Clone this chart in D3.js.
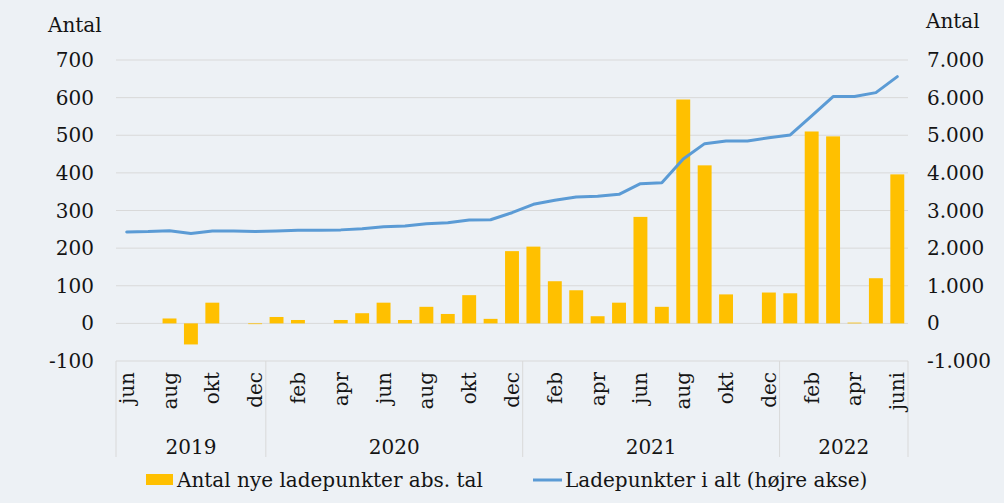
<!DOCTYPE html>
<html>
<head>
<meta charset="utf-8">
<script src="https://cdn.jsdelivr.net/npm/d3@7"></script>
<style>
  body { margin: 0; background: #edf1f5; }
  svg { display: block; }
  text { font-family: "DejaVu Serif", Georgia, serif; fill: #141414; }
</style>
</head>
<body>
<svg id="chart"></svg>
<script>
const width = 1004;
const height = 503;

// måneder jun 2019 - juni 2022
const months = [
  "jun", "jul", "aug", "sep", "okt", "nov", "dec",
  "jan", "feb", "mar", "apr", "maj", "jun", "jul", "aug", "sep", "okt", "nov", "dec",
  "jan", "feb", "mar", "apr", "maj", "jun", "jul", "aug", "sep", "okt", "nov", "dec",
  "jan", "feb", "mar", "apr", "maj", "juni"
];
const years = [
  { label: "2019", count: 7 },
  { label: "2020", count: 12 },
  { label: "2021", count: 12 },
  { label: "2022", count: 6 }
];
// nye ladepunkter pr. måned
const newPoints = [
  0, 0, 13, -56, 55, 0, -2,
  17, 9, 0, 9, 27, 55, 9, 44, 25, 75, 12, 192,
  204, 112, 88, 19, 55, 283, 44, 595, 420, 77, 0, 82,
  80, 510, 497, 2, 120, 396
];
// ladepunkter i alt (højre akse)
const totalPoints = [
  2430, 2440, 2463, 2390, 2455, 2455, 2440,
  2455, 2473, 2475, 2485, 2516, 2569, 2590, 2650, 2676, 2747, 2755, 2941,
  3165, 3271, 3359, 3377, 3431, 3713, 3739, 4370, 4777, 4848, 4850, 4936,
  5008, 5513, 6027, 6030, 6133, 6559
];
const leftTicks = [-100, 0, 100, 200, 300, 400, 500, 600, 700];
const rightTicks = [-1000, 0, 1000, 2000, 3000, 4000, 5000, 6000, 7000];

const margin = { left: 116, right: 96, top: 60, bottom: 142 };
const x0 = margin.left, x1 = width - margin.right;
const yTop = margin.top, yBottom = height - margin.bottom;
const fs = "20px";

const svg = d3.select("#chart").attr("width", width).attr("height", height);

const x = d3.scaleBand()
  .domain(d3.range(months.length))
  .range([x0, x1])
  .paddingInner(0.35)
  .paddingOuter(0.175);
const step = x.step();
const cx = i => x(i) + x.bandwidth() / 2;

const y = d3.scaleLinear().domain([-100, 700]).range([yBottom, yTop]);
const y2 = d3.scaleLinear().domain([-1000, 7000]).range([yBottom, yTop]);

// gitterlinjer
svg.append("g")
  .selectAll("line")
  .data(leftTicks.slice(1))
  .join("line")
  .attr("x1", x0).attr("x2", x1)
  .attr("y1", d => y(d)).attr("y2", d => y(d))
  .attr("stroke", "#d9d9d9")
  .attr("stroke-width", 1);

// søjler
svg.append("g")
  .selectAll("rect")
  .data(newPoints)
  .join("rect")
  .attr("x", (d, i) => x(i))
  .attr("width", x.bandwidth())
  .attr("y", d => y(Math.max(0, d)))
  .attr("height", d => Math.abs(y(d) - y(0)))
  .attr("fill", "#ffc000");

// linje
const line = d3.line()
  .x((d, i) => cx(i))
  .y(d => y2(d));
svg.append("path")
  .datum(totalPoints)
  .attr("d", line)
  .attr("fill", "none")
  .attr("stroke", "#5b9bd5")
  .attr("stroke-width", 3)
  .attr("stroke-linejoin", "round")
  .attr("stroke-linecap", "round");

// venstre akse (bindestreg som minus)
const fmtLeft = d => String(d);
svg.append("g")
  .selectAll("text")
  .data(leftTicks)
  .join("text")
  .attr("x", 94)
  .attr("y", d => y(d))
  .attr("dy", "0.35em")
  .attr("text-anchor", "end")
  .style("font-size", fs)
  .text(d => fmtLeft(d));

// højre akse
const fmtRight = d => d3.format(",")(d).replace(/,/g, ".").replace("−", "-");
svg.append("g")
  .selectAll("text")
  .data(rightTicks)
  .join("text")
  .attr("x", 927)
  .attr("y", d => y2(d))
  .attr("dy", "0.35em")
  .attr("text-anchor", "start")
  .style("font-size", fs)
  .text(d => fmtRight(d));

svg.append("text").attr("x", 48).attr("y", 32).style("font-size", fs).text("Antal");
svg.append("text").attr("x", 926).attr("y", 28).style("font-size", fs).text("Antal");

// kategoriakse
const axisG = svg.append("g");
axisG.append("line")
  .attr("x1", x0).attr("x2", x1)
  .attr("y1", yBottom).attr("y2", yBottom)
  .attr("stroke", "#d9d9d9");

let acc = 0;
const bounds = [0];
years.forEach(yr => { acc += yr.count; bounds.push(acc); });
axisG.selectAll("line.sep")
  .data(bounds)
  .join("line")
  .attr("class", "sep")
  .attr("x1", d => x0 + d * step).attr("x2", d => x0 + d * step)
  .attr("y1", yBottom).attr("y2", 457)
  .attr("stroke", "#d9d9d9");

axisG.selectAll("text.month")
  .data(months.map((m, i) => ({ m, i })).filter(d => d.i % 2 === 0))
  .join("text")
  .attr("class", "month")
  .attr("transform", d => `translate(${cx(d.i)},${372}) rotate(-90)`)
  .attr("text-anchor", "end")
  .attr("dy", "0.35em")
  .style("font-size", fs)
  .text(d => d.m);

axisG.selectAll("text.year")
  .data(years.map((yr, k) => ({ label: yr.label, a: bounds[k], b: bounds[k + 1] })))
  .join("text")
  .attr("class", "year")
  .attr("x", d => x0 + (d.a + d.b) / 2 * step)
  .attr("y", 454)
  .attr("text-anchor", "middle")
  .style("font-size", fs)
  .text(d => d.label);

// forklaring
const legend = svg.append("g");
legend.append("rect")
  .attr("x", 146).attr("y", 474).attr("width", 27).attr("height", 11)
  .attr("fill", "#ffc000");
legend.append("text")
  .attr("x", 177).attr("y", 487)
  .style("font-size", fs)
  .text("Antal nye ladepunkter abs. tal");
legend.append("line")
  .attr("x1", 533).attr("x2", 562).attr("y1", 480).attr("y2", 480)
  .attr("stroke", "#5b9bd5").attr("stroke-width", 3);
legend.append("text")
  .attr("x", 565).attr("y", 487)
  .style("font-size", fs)
  .text("Ladepunkter i alt (højre akse)");
</script>
</body>
</html>
